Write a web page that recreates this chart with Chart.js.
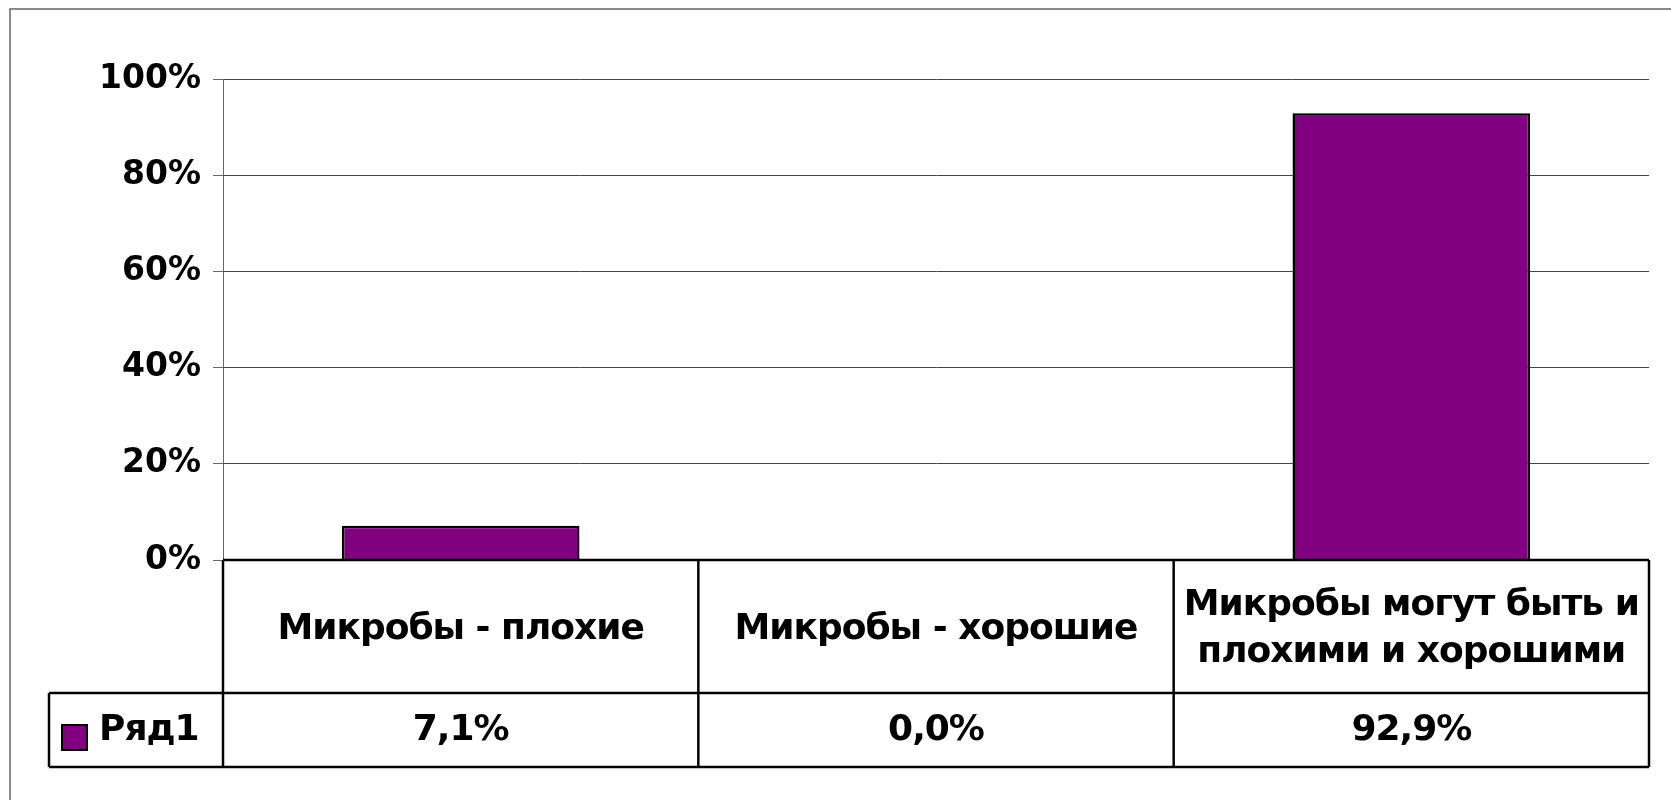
<!DOCTYPE html>
<html>
<head>
<meta charset="utf-8">
<script src="https://cdn.jsdelivr.net/npm/chart.js"></script>
<style>
    html, body { margin: 0; padding: 0; background: #fff; }
    canvas { display: block; }
</style>
</head>
<body>
<canvas id="microbeChart" width="1671" height="800"></canvas>
<script>
// Categories (header row of the data table)
const categories = [
    'Микробы - плохие',
    'Микробы - хорошие',
    ['Микробы могут быть и', 'плохими и хорошими']
];

// Series name and values in %
const seriesName = 'Ряд1';
const seriesValues = [7.1, 0.0, 92.9];

// Y axis tick values
const yTicks = [0, 20, 40, 60, 80, 100];

const fontName = '"DejaVu Sans", Verdana, sans-serif';
const barColor = '#800080';

// 7.1 -> "7,1%"
function formatValue(v) {
    return v.toFixed(1).replace('.', ',') + '%';
}

// Plugin: outer frame + data table under the plot
const dataTablePlugin = {
    id: 'dataTable',
    beforeDraw(chart) {
        const ctx = chart.ctx;
        ctx.save();
        ctx.fillStyle = '#fff';
        ctx.fillRect(0, 0, chart.width, chart.height);
        ctx.strokeStyle = '#666';
        ctx.lineWidth = 1.5;
        ctx.strokeRect(10, 9, chart.width + 50, chart.height + 50);
        ctx.restore();
    },
    afterDraw(chart) {
        const ctx = chart.ctx;
        const area = chart.chartArea;
        const xScale = chart.scales.x;
        const step = xScale.getPixelForValue(1) - xScale.getPixelForValue(0);

        const top = area.bottom;
        const mid = top + 133;
        const bottom = mid + 74;
        const legendLeft = 49;

        ctx.save();
        ctx.strokeStyle = '#000';
        ctx.lineWidth = 2.5;

        function line(x1, y1, x2, y2) {
            ctx.beginPath();
            ctx.moveTo(x1, y1);
            ctx.lineTo(x2, y2);
            ctx.stroke();
        }

        // horizontal lines
        line(area.left, top, area.right, top);
        line(legendLeft, mid, area.right, mid);
        line(legendLeft, bottom, area.right, bottom);
        line(legendLeft, mid, legendLeft, bottom);

        // vertical lines between categories
        for (let i = 0; i <= categories.length; i++) {
            const x = xScale.getPixelForValue(0) - step / 2 + i * step;
            line(x, top, x, bottom);
        }

        ctx.fillStyle = '#000';
        ctx.font = 'bold 36px ' + fontName;
        ctx.letterSpacing = '-1px';
        ctx.textAlign = 'center';
        ctx.textBaseline = 'middle';

        // header row
        categories.forEach((label, i) => {
            const cx = xScale.getPixelForValue(i);
            const lines = Array.isArray(label) ? label : [label];
            const lineHeight = 47;
            const startY = (top + mid) / 2 + 3 - (lines.length - 1) * lineHeight / 2;
            lines.forEach((t, j) => ctx.fillText(t, cx, startY + j * lineHeight));
        });

        // values row
        seriesValues.forEach((v, i) => {
            ctx.fillText(formatValue(v), xScale.getPixelForValue(i), (mid + bottom) / 2 + 1);
        });

        // legend key
        ctx.fillStyle = barColor;
        ctx.fillRect(62, 725, 25, 25);
        ctx.lineWidth = 2;
        ctx.strokeRect(62, 725, 25, 25);
        ctx.fillStyle = '#000';
        ctx.textAlign = 'left';
        ctx.fillText(seriesName, 99, (mid + bottom) / 2 + 1);

        ctx.restore();
    }
};

const ctx = document.getElementById('microbeChart').getContext('2d');
new Chart(ctx, {
    type: 'bar',
    data: {
        labels: categories,
        datasets: [{
            label: seriesName,
            data: seriesValues,
            backgroundColor: barColor,
            borderColor: '#000',
            borderWidth: 2.5,
            barPercentage: 0.5,
            categoryPercentage: 1.0
        }]
    },
    options: {
        responsive: false,
        animation: false,
        devicePixelRatio: 1,
        layout: {
            padding: { top: 79, right: 22, bottom: 240, left: 0 }
        },
        plugins: {
            legend: { display: false },
            tooltip: { enabled: false }
        },
        scales: {
            x: {
                display: false
            },
            y: {
                min: 0,
                max: 100,
                afterBuildTicks: (scale) => {
                    scale.ticks = yTicks.map(v => ({ value: v }));
                },
                afterFit: (scale) => {
                    scale.width = 223;
                },
                grid: {
                    color: '#444',
                    lineWidth: 1,
                    tickLength: 10,
                    tickColor: '#666'
                },
                border: { display: true, color: '#666', width: 1 },
                ticks: {
                    padding: 12,
                    color: '#000',
                    font: { family: fontName, size: 33, weight: 'bold' },
                    callback: (v) => v + '%'
                }
            }
        }
    },
    plugins: [dataTablePlugin]
});
</script>
</body>
</html>
